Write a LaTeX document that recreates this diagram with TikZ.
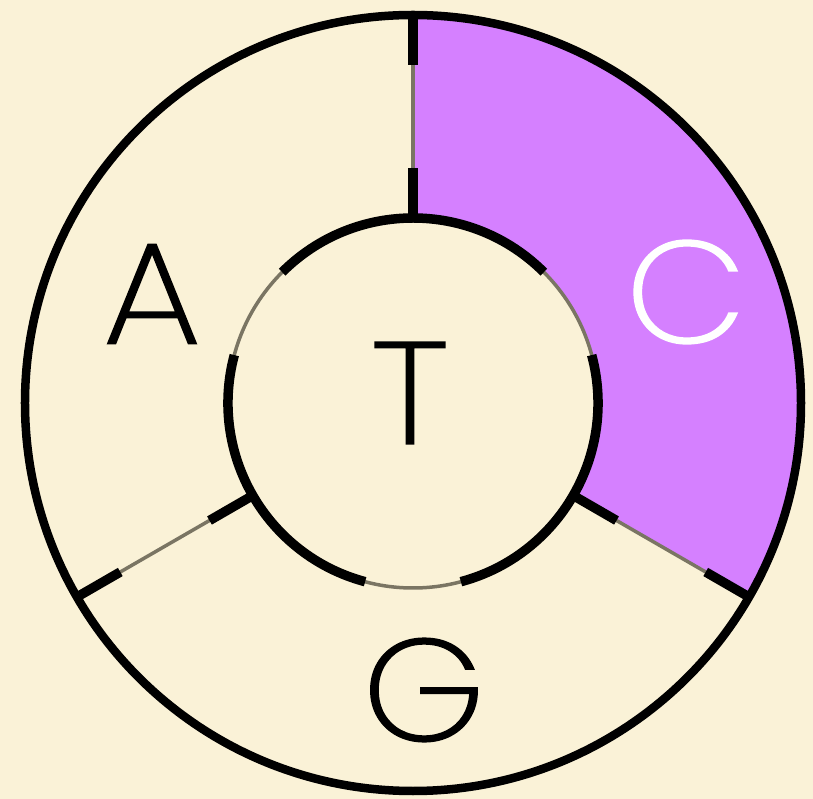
\documentclass[tikz,border=0pt]{standalone}
\usepackage{fontspec}
\usepackage{graphicx}
\IfFontExistsTF{Poppins ExtraLight}{\newfontfamily\letterfont{Poppins ExtraLight}[FakeBold=1]}{%
  \newfontfamily\letterfont{Poppins}}
\newcommand\widen[1]{\scalebox{1.08}[1]{#1}}
\definecolor{paper}{HTML}{FAF2D7}
\definecolor{violet}{HTML}{D580FF}
\definecolor{greyline}{HTML}{7A7563}
\tikzset{
  thickline/.style={line width=9.5pt, black, line cap=butt},
  thinline/.style={line width=3.5pt, draw=greyline},
  letter/.style={inner sep=0pt, font=\letterfont\fontsize{145}{145}\selectfont}
}
\begin{document}
\begin{tikzpicture}[x=1pt,y=1pt]
\useasboundingbox (-413,-396) rectangle (400,403);
\fill[paper] (-413,-396) rectangle (400,403);
% purple sector
\fill[violet] (90:388) arc[start angle=90,end angle=-30,radius=388]
  -- (-30:185) arc[start angle=-30,end angle=90,radius=185] -- cycle;
% thin lines
\draw[thinline] (0,0) circle[radius=185];
\foreach \a in {90,210,330}{
  \draw[thinline] (\a:185) -- (\a:388);
  \draw[thickline] (\a:185) -- (\a:235);
  \draw[thickline] (\a:338) -- (\a:388);
}
% thick inner arcs
\foreach \s in {45,165,285}{
  \draw[thickline] (\s:185) arc[start angle=\s,end angle=\s+90,radius=185];
}
% outer circle
\draw[line width=8.5pt] (0,0) circle[radius=388];
% labels
\node[letter] (A) at (-261,109) {\widen{A}};
\node[letter,white] (C) at (273,111) {\widen{C}};
\node[letter] (T) at (-3,10) {\widen{T}};
\node[letter] (G) at (11,-287) {\widen{G}};
\end{tikzpicture}
\end{document}
